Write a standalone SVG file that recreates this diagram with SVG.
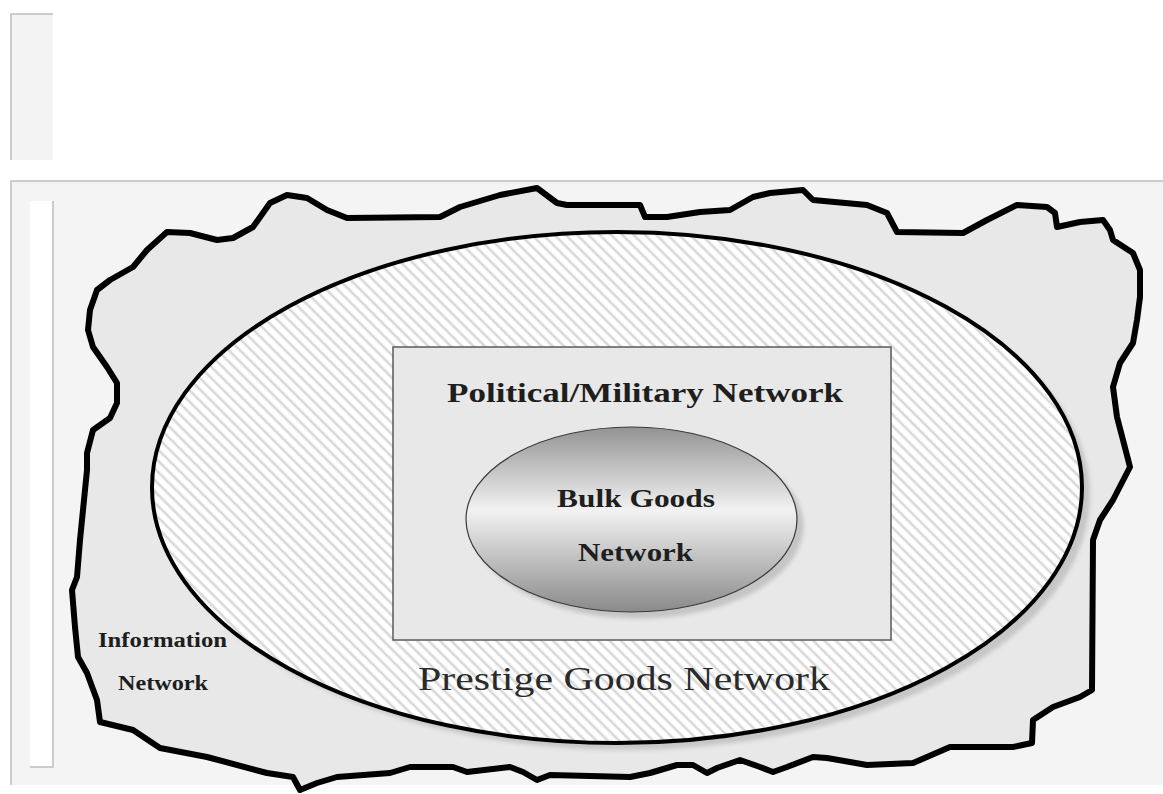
<svg xmlns="http://www.w3.org/2000/svg" width="1163" height="794" viewBox="0 0 1163 794">
  <style>
    .frame { stroke: #bdbdbd; stroke-width: 1.5; fill: none; }
    .bold { font-family: "Liberation Serif", "Times New Roman", serif; font-weight: bold; fill: #1e1e1e; }
    .reg { font-family: "Liberation Serif", "Times New Roman", serif; fill: #2a2a2a; }
  </style>
  <defs>
    <pattern id="hatch" patternUnits="userSpaceOnUse" width="8" height="8" patternTransform="rotate(-45)">
      <rect width="8" height="8" fill="#ffffff"/>
      <line x1="2" y1="0" x2="2" y2="8" stroke="#d8d8d8" stroke-width="2.6"/>
    </pattern>
    <linearGradient id="bulkGrad" x1="0" y1="0" x2="0" y2="1">
      <stop offset="0" stop-color="#939393"/>
      <stop offset="0.45" stop-color="#f2f2f2"/>
      <stop offset="1" stop-color="#8a8a8a"/>
    </linearGradient>
    <filter id="soft" x="-10%" y="-10%" width="120%" height="120%">
      <feGaussianBlur stdDeviation="2"/>
    </filter>
  </defs>

  <rect width="1163" height="794" fill="#ffffff"/>

  <g id="top-panel">
    <rect x="11" y="14" width="42" height="146" fill="#f3f3f3"/>
    <path class="frame" d="M11 160 V14 H53"/>
  </g>

  <g id="main-panel">
    <rect x="11" y="181" width="1152" height="604" fill="#f4f4f4"/>
    <path class="frame" d="M11 785 V181 H1163"/>
    <rect x="30" y="201" width="23" height="566" fill="#ffffff"/>
    <path class="frame" d="M53 201 V767 H30"/>
  </g>

  <g id="information-network">
    <path fill="#e8e8e8" stroke="#000" stroke-width="6" stroke-linejoin="round"
      d="M88,330 L90,310 L97,290 L110,280 L133,267 L147,250 L167,232 L190,233 L217,240 L233,238 L253,227 L270,203 L287,195 L307,198 L327,210 L347,218 L440,217 L460,207 L500,195 L537,188 L557,203 L567,205 L640,205 L645,217 L667,217 L700,212 L730,210 L753,197 L770,193 L803,190 L813,200 L867,205 L887,213 L897,232 L963,233 L987,220 L1017,205 L1047,207 L1055,213 L1057,227 L1080,222 L1103,220 L1110,230 L1113,240 L1133,253 L1140,270 L1140,297 L1137,320 L1133,343 L1120,363 L1113,387 L1117,417 L1123,440 L1130,467 L1113,500 L1100,520 L1093,540 L1092,690 L1080,697 L1053,707 L1033,720 L1032,743 L1013,747 L950,747 L920,760 L913,763 L867,765 L827,758 L813,757 L787,767 L773,772 L760,767 L740,760 L717,768 L707,773 L693,765 L677,765 L650,773 L630,777 L550,775 L537,780 L523,772 L510,767 L467,772 L453,767 L410,767 L390,773 L337,777 L317,783 L300,790 L293,777 L267,773 L207,757 L160,748 L133,730 L100,722 L97,700 L87,673 L78,657 L75,627 L72,590 L77,577 L80,540 L83,510 L87,470 L87,453 L93,430 L110,418 L117,403 L117,383 L107,367 L93,347 Z"/>
    <text class="bold" x="98" y="647" font-size="20" textLength="129" lengthAdjust="spacingAndGlyphs">Information</text>
    <text class="bold" x="118" y="690" font-size="20" textLength="90" lengthAdjust="spacingAndGlyphs">Network</text>
  </g>

  <g id="prestige-goods-network">
    <ellipse cx="625" cy="495" rx="465" ry="255" fill="#c6c6c6" filter="url(#soft)"/>
    <ellipse cx="617" cy="487.5" rx="465" ry="255.5" fill="url(#hatch)" stroke="#000" stroke-width="4"/>
    <text class="reg" x="418" y="690" font-size="33" textLength="412" lengthAdjust="spacingAndGlyphs">Prestige Goods Network</text>
  </g>

  <g id="political-military-network">
    <rect x="393" y="347" width="498" height="293" fill="#e8e8e8" stroke="#5a5a5a" stroke-width="1.5"/>
    <text class="bold" x="447" y="402" font-size="27" textLength="396" lengthAdjust="spacingAndGlyphs">Political/Military Network</text>
  </g>

  <g id="bulk-goods-network">
    <ellipse cx="638" cy="526" rx="165.5" ry="92.5" fill="#c4c4c4" filter="url(#soft)"/>
    <ellipse cx="631.5" cy="519.5" rx="165.5" ry="92.5" fill="url(#bulkGrad)" stroke="#3a3a3a" stroke-width="1.2"/>
    <text class="bold" x="557" y="507" font-size="25" textLength="158" lengthAdjust="spacingAndGlyphs">Bulk Goods</text>
    <text class="bold" x="578" y="561" font-size="25" textLength="115" lengthAdjust="spacingAndGlyphs">Network</text>
  </g>

  <g id="connectors"></g>
</svg>
